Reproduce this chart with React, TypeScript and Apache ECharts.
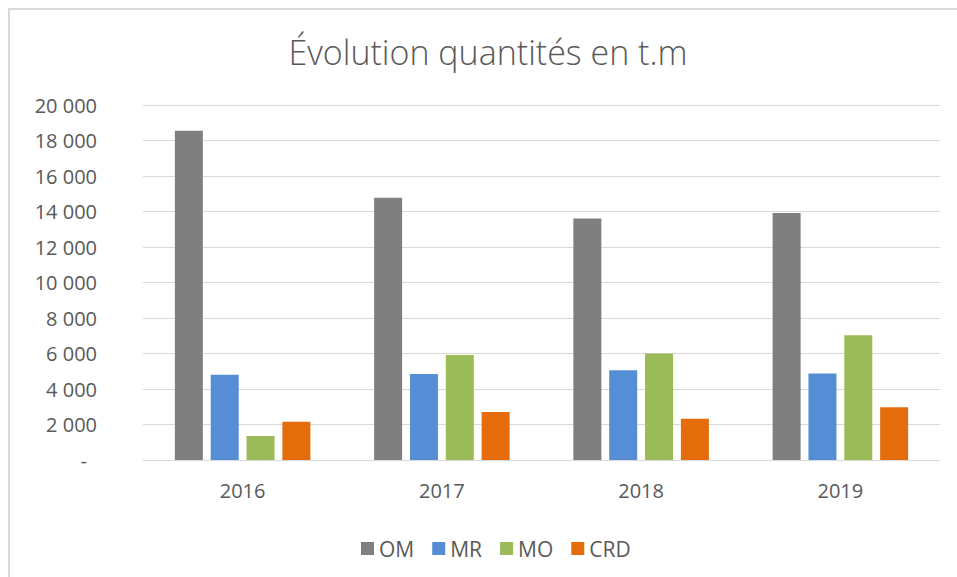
import React, { useEffect, useRef } from "react";
import * as echarts from "echarts";

const categories = ["2016", "2017", "2018", "2019"];
const seriesNames = ["OM", "MR", "MO", "CRD"];
const omValues = [18550, 14780, 13600, 13920];
const mrValues = [4800, 4850, 5050, 4880];
const moValues = [1350, 5920, 6000, 7030];
const crdValues = [2150, 2700, 2330, 2970];
const colors = ["#7f7f7f", "#558ed5", "#9bbb59", "#e46c0a"];
const titleText = "Évolution quantités en t.m";

const FONT = "'Open Sans', 'Liberation Sans', sans-serif";

function fmt(v: number): string {
  if (v === 0) return "{d|-}";
  return String(v).replace(/\B(?=(\d{3})+(?!\d))/g, " ");
}

export default function App() {
  const ref = useRef<HTMLDivElement>(null);
  useEffect(() => {
    document.body.style.margin = "0";
    if (!ref.current) return;
    const chart = echarts.init(ref.current, undefined, { renderer: "svg" });
    const data = [omValues, mrValues, moValues, crdValues];
    chart.setOption({
      animation: false,
      backgroundColor: "#ffffff",
      textStyle: { fontFamily: FONT },
      graphic: [
        {
          type: "rect",
          shape: { x: 9, y: 9, width: 1200, height: 1200 },
          style: { fill: "none", stroke: "#d9d9d9", lineWidth: 2 },
          silent: true,
        },
        {
          type: "text",
          x: 488,
          y: 52,
          style: {
            text: titleText,
            fontFamily: FONT,
            fontSize: 34,
            fontWeight: 300,
            fill: "#595959",
            align: "center",
            verticalAlign: "middle",
          },
        },
      ],
      legend: {
        left: 356,
        top: 533,
        itemWidth: 13,
        itemHeight: 13,
        itemGap: 18,
        icon: "rect",
        data: seriesNames,
        textStyle: { color: "#595959", fontSize: 21, fontFamily: FONT },
      },
      grid: { left: 143, right: 17, top: 105, bottom: 117, containLabel: false },
      xAxis: {
        type: "category",
        data: categories,
        axisLine: { show: true, lineStyle: { color: "#d9d9d9", width: 1 } },
        axisTick: { show: false },
        axisLabel: { color: "#595959", fontSize: 20, margin: 20, fontFamily: FONT },
      },
      yAxis: {
        type: "value",
        min: 0,
        max: 20000,
        interval: 2000,
        axisLine: { show: false },
        axisTick: { show: false },
        splitLine: { lineStyle: { color: "#d9d9d9", width: 1 } },
        axisLabel: {
          color: "#595959",
          fontSize: 20,
          margin: 46,
          fontFamily: FONT,
          formatter: (v: number) => fmt(v),
          rich: { d: { color: "#595959", fontSize: 20, padding: [0, 10, 0, 0], fontFamily: FONT } },
        },
      },
      series: seriesNames.map((name, i) => ({
        name,
        type: "bar",
        data: data[i],
        barWidth: 28,
        barGap: "28%",
        itemStyle: { color: colors[i] },
      })),
    });
    return () => chart.dispose();
  }, []);
  return <div ref={ref} style={{ width: 957, height: 577 }} />;
}
